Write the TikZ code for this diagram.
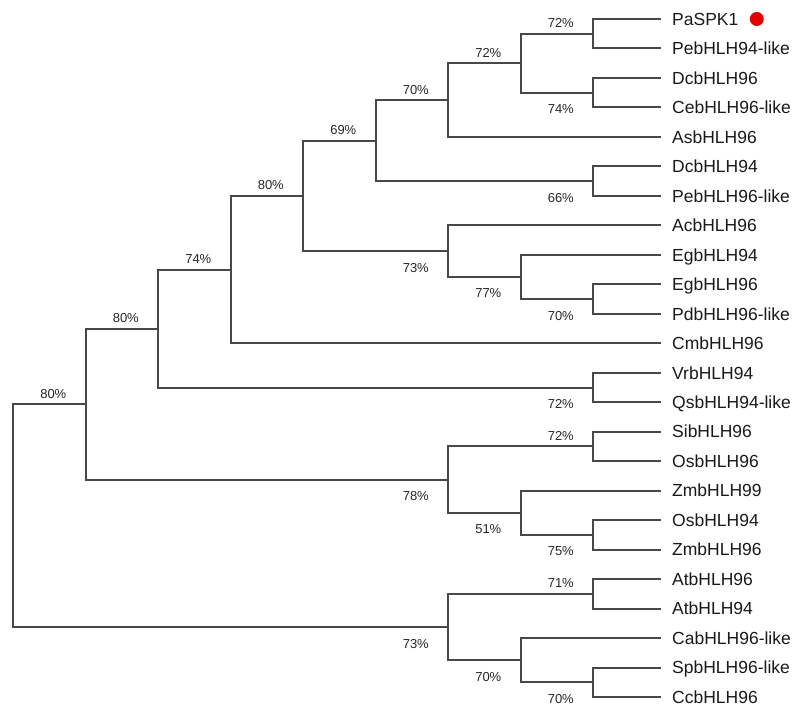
\documentclass[tikz,border=0pt]{standalone}
\usepackage{fontspec}
\setmainfont{Liberation Sans}
\usepackage{tikz}
\usetikzlibrary{positioning}
\definecolor{branch}{RGB}{72,72,72}

\begin{document}
\begin{tikzpicture}[x=1pt,y=1pt,grow'=right,
  cols/.style={level distance=#1*72.5pt},
  tip/.style={level distance=#1*72.5pt+68pt},
  sib/.style={sibling distance=#1*29.48pt},
  fork/.style={inner sep=0pt,minimum size=0pt},
  leaf/.style={anchor=west,inner xsep=11pt,inner ysep=0pt,text height=12.5pt,text depth=0pt,
    text=black!90,font=\fontsize{17.5}{20}\selectfont},
  bsup/.style={pos=1,anchor=south east,inner sep=0pt,xshift=-18pt,yshift=4.9pt,
    text=black!85,font=\fontsize{13}{15}\selectfont},
  bsdown/.style={pos=1,anchor=north east,inner sep=0pt,xshift=-18pt,yshift=-11pt,
    text=black!85,font=\fontsize{13}{15}\selectfont},
  edge from parent/.style={draw,branch,line width=2pt},
  edge from parent path={(\tikzparentnode.center) |- (\tikzchildnode.west)}]
\useasboundingbox (0,0) rectangle (793,-707);
\node[fork] (r) at (13,-515.55) {} [sib=7.5625]
  child[cols=1] {node[fork] (a) {} [sib=5.125]
    child[cols=1] {node[fork] (b) {} [sib=4]
      child[cols=1] {node[fork] (c) {} [sib=5]
        child[cols=1] {node[fork] (d) {} [sib=3.75]
          child[cols=1] {node[fork] (e) {} [sib=2.75]
            child[cols=1] {node[fork] (f) {} [sib=2.5]
              child[cols=1] {node[fork] (g) {} [sib=2]
                child[cols=1] {node[fork] (p1) {} [sib=1]
                  child[tip=0] {node[leaf] (pa) {PaSPK1}}
                  child[tip=0] {node[leaf] (pe94) {PebHLH94-like}}
                  edge from parent node[bsup] {72\%}}
                child[cols=1] {node[fork] (p2) {} [sib=1]
                  child[tip=0] {node[leaf] (dc96) {DcbHLH96}}
                  child[tip=0] {node[leaf] (ce96) {CebHLH96-like}}
                  edge from parent node[bsdown] {74\%}}
                edge from parent node[bsup] {72\%}}
              child[tip=2] {node[leaf] (as96) {AsbHLH96}}
              edge from parent node[bsup] {70\%}}
            child[cols=3] {node[fork] (p3) {} [sib=1]
              child[tip=0] {node[leaf] (dc94) {DcbHLH94}}
              child[tip=0] {node[leaf] (pe96) {PebHLH96-like}}
              edge from parent node[bsdown] {66\%}}
            edge from parent node[bsup] {69\%}}
          child[cols=2] {node[fork] (h) {} [sib=1.75]
            child[tip=2] {node[leaf] (ac96) {AcbHLH96}}
            child[cols=1] {node[fork] (i) {} [sib=1.5]
              child[tip=1] {node[leaf] (eg94) {EgbHLH94}}
              child[cols=1] {node[fork] (p4) {} [sib=1]
                child[tip=0] {node[leaf] (eg96) {EgbHLH96}}
                child[tip=0] {node[leaf] (pd96) {PdbHLH96-like}}
                edge from parent node[bsdown] {70\%}}
              edge from parent node[bsdown] {77\%}}
            edge from parent node[bsdown] {73\%}}
          edge from parent node[bsup] {80\%}}
        child[tip=5] {node[leaf] (cm96) {CmbHLH96}}
        edge from parent node[bsup] {74\%}}
      child[cols=6] {node[fork] (p5) {} [sib=1]
        child[tip=0] {node[leaf] (vr94) {VrbHLH94}}
        child[tip=0] {node[leaf] (qs94) {QsbHLH94-like}}
        edge from parent node[bsdown] {72\%}}
      edge from parent node[bsup] {80\%}}
    child[cols=5] {node[fork] (j) {} [sib=2.25]
      child[cols=2] {node[fork] (p6) {} [sib=1]
        child[tip=0] {node[leaf] (si96) {SibHLH96}}
        child[tip=0] {node[leaf] (os96) {OsbHLH96}}
        edge from parent node[bsup] {72\%}}
      child[cols=1] {node[fork] (k) {} [sib=1.5]
        child[tip=1] {node[leaf] (zm99) {ZmbHLH99}}
        child[cols=1] {node[fork] (p7) {} [sib=1]
          child[tip=0] {node[leaf] (os94) {OsbHLH94}}
          child[tip=0] {node[leaf] (zm96) {ZmbHLH96}}
          edge from parent node[bsdown] {75\%}}
        edge from parent node[bsdown] {51\%}}
      edge from parent node[bsdown] {78\%}}
    edge from parent node[bsup] {80\%}}
  child[cols=6] {node[fork] (l) {} [sib=2.25]
    child[cols=2] {node[fork] (p8) {} [sib=1]
      child[tip=0] {node[leaf] (at96) {AtbHLH96}}
      child[tip=0] {node[leaf] (at94) {AtbHLH94}}
      edge from parent node[bsup] {71\%}}
    child[cols=1] {node[fork] (m) {} [sib=1.5]
      child[tip=1] {node[leaf] (ca96) {CabHLH96-like}}
      child[cols=1] {node[fork] (p9) {} [sib=1]
        child[tip=0] {node[leaf] (sp96) {SpbHLH96-like}}
        child[tip=0] {node[leaf] (cc96) {CcbHLH96}}
        edge from parent node[bsdown] {70\%}}
      edge from parent node[bsdown] {70\%}}
    edge from parent node[bsdown] {73\%}};
\node[circle,fill=red!90!black,minimum size=14pt,inner sep=0pt,right=0pt of pa] (dot) {};
\end{tikzpicture}
\end{document}
